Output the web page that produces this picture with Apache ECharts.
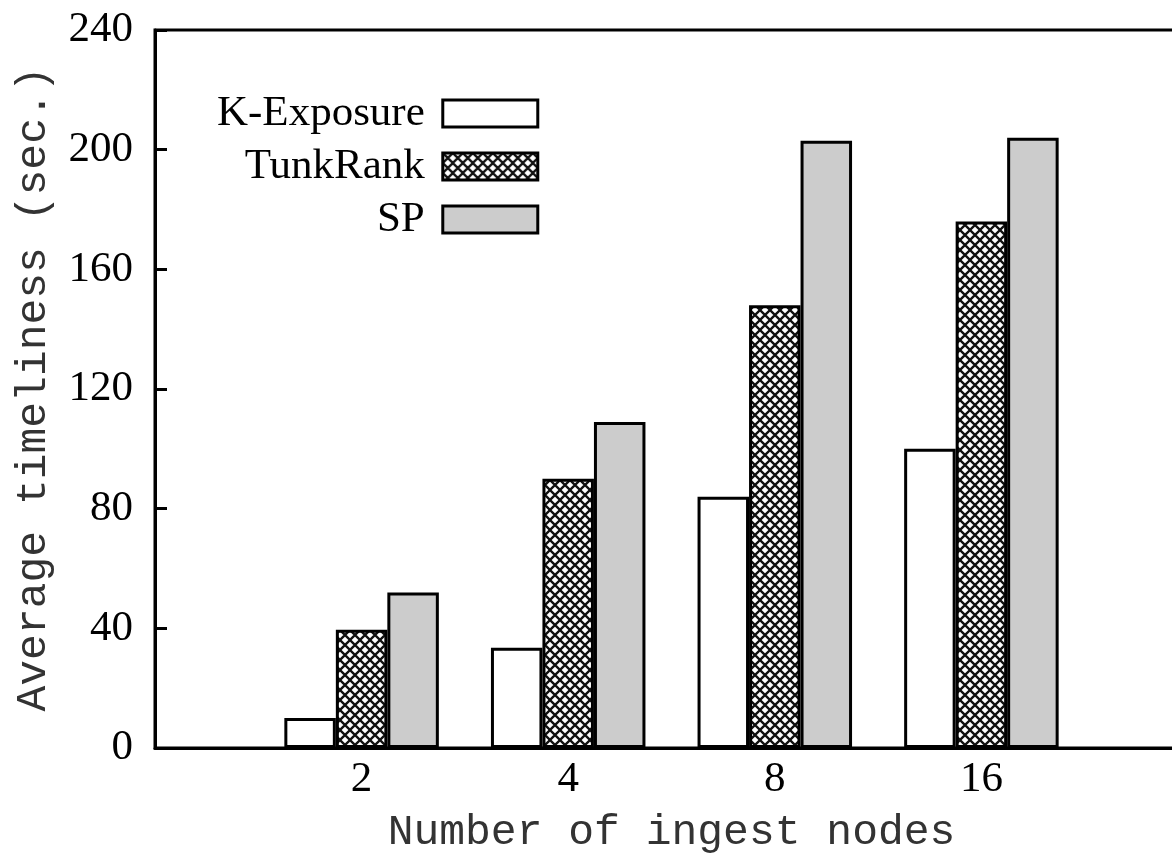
<!DOCTYPE html>
<html>
<head>
<meta charset="utf-8">
<script src="https://cdn.jsdelivr.net/npm/echarts@6/dist/echarts.min.js"></script>
<style>
html,body{margin:0;padding:0;background:#fff;}
#chart{width:1172px;height:855px;}
</style>
</head>
<body>
<div id="chart"></div>
<script>
// ---- data ----
const categories = ['', '2', '4', '8', '16', ''];
const seriesNames = ['K-Exposure', 'TunkRank', 'SP'];
const kExposure = [null, 10, 33.5, 84, 100, null];
const tunkRank = [null, 39.5, 90, 148, 176, null];
const sp = [null, 52, 109, 203, 204, null];
const yTicks = { min: 0, max: 240, interval: 40 };
const xTitle = 'Number of ingest nodes';
const yTitle = 'Average timeliness (sec.)';

// crosshatch pattern
function makePattern() {
  const c = document.createElement('canvas');
  c.width = 10; c.height = 10;
  const g = c.getContext('2d');
  g.fillStyle = '#fff';
  g.fillRect(0, 0, 10, 10);
  g.strokeStyle = '#111';
  g.lineWidth = 2.3;
  g.beginPath();
  g.moveTo(-1, -1); g.lineTo(11, 11);
  g.moveTo(11, -1); g.lineTo(-1, 11);
  g.stroke();
  return c;
}
const hatch = { image: makePattern(), repeat: 'repeat' };

const serif = '"Liberation Serif", "Times New Roman", serif';
const mono = '"Liberation Mono", "Courier New", monospace';

const chart = echarts.init(document.getElementById('chart'));
const barBase = {
  type: 'bar',
  barWidth: 51.5,
  barGap: '0%',
  animation: false
};
chart.setOption({
  animation: false,
  grid: {
    left: 155, top: 30, width: 1033, height: 718,
    outerBoundsMode: 'none',
    containLabel: false,
    show: true, borderColor: '#000', borderWidth: 3, backgroundColor: 'transparent'
  },
  legend: {
    orient: 'vertical',
    left: 217,
    top: 92,
    padding: 0,
    align: 'right',
    itemWidth: 95,
    itemHeight: 27,
    itemGap: 10,
    itemStyle: { borderWidth: 3, borderColor: '#000' },
    textStyle: { fontFamily: serif, fontSize: 43, color: '#000', lineHeight: 43, padding: [0, 13, 0, 0] },
    data: seriesNames.map(n => ({ name: n, icon: 'rect' }))
  },
  xAxis: {
    type: 'category',
    data: categories,
    boundaryGap: false,
    name: xTitle,
    nameLocation: 'middle',
    nameGap: 63,
    nameTextStyle: { fontFamily: mono, fontSize: 43, color: '#333' },
    axisLine: { show: true, lineStyle: { color: '#000', width: 3 } },
    axisTick: { show: false },
    axisLabel: { interval: 0, fontFamily: serif, fontSize: 43, color: '#000', margin: 10 },
    splitLine: { show: false }
  },
  yAxis: {
    type: 'value',
    min: yTicks.min, max: yTicks.max, interval: yTicks.interval,
    name: yTitle,
    nameLocation: 'middle',
    nameRotate: 90,
    nameGap: 100,
    nameTextStyle: { fontFamily: mono, fontSize: 43, color: '#333' },
    axisLine: { show: true, lineStyle: { color: '#000', width: 3 } },
    axisTick: { show: true, inside: true, length: 12, lineStyle: { color: '#000', width: 3 } },
    axisLabel: { fontFamily: serif, fontSize: 43, color: '#000', margin: 22 },
    splitLine: { show: false }
  },
  series: [
    Object.assign({}, barBase, { name: seriesNames[0], data: kExposure,
      itemStyle: { color: '#fff', borderColor: '#000', borderWidth: 3 } }),
    Object.assign({}, barBase, { name: seriesNames[1], data: tunkRank,
      itemStyle: { color: hatch, borderColor: '#000', borderWidth: 3 } }),
    Object.assign({}, barBase, { name: seriesNames[2], data: sp,
      itemStyle: { color: '#cccccc', borderColor: '#000', borderWidth: 3 } })
  ]
});
</script>
</body>
</html>
